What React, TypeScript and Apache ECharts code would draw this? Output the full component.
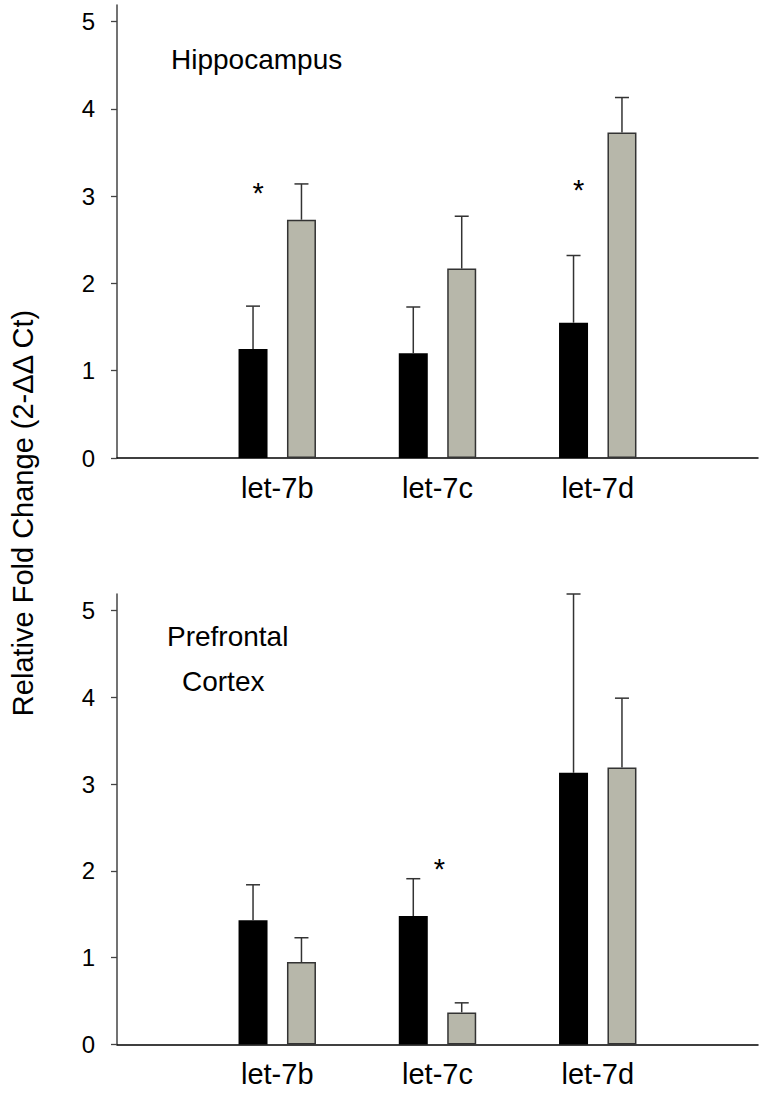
import React, { useEffect, useRef } from "react";
import * as echarts from "echarts";

// ---------- data ----------
const categories = ["let-7b", "let-7c", "let-7d"];
const yTicks = [0, 1, 2, 3, 4, 5];

const hippoControl = [1.25, 1.2, 1.55];
const hippoControlErr = [0.49, 0.53, 0.77];
const hippoTreated = [2.73, 2.17, 3.73];
const hippoTreatedErr = [0.41, 0.6, 0.4];
const hippoStarCats = ["let-7b", "let-7d"];
const hippoStarY = [3.11, 3.14];

const pfcControl = [1.43, 1.48, 3.13];
const pfcControlErr = [0.41, 0.43, 2.06];
const pfcTreated = [0.95, 0.37, 3.19];
const pfcTreatedErr = [0.28, 0.11, 0.8];
const pfcStarCats = ["let-7c"];
const pfcStarY = [2.09];

const yTitle = "Relative Fold Change (2-ΔΔ Ct)";
const panelTitles = ["Hippocampus", "Prefrontal", "Cortex"];

// ---------- style ----------
const FONT = 'Arial, "Liberation Sans", Helvetica, sans-serif';
const BAR_W = 29;
const BAR_GAP = 0.67;
const OFF = (BAR_W + BAR_W * BAR_GAP) / 2;
const GRAY = "#b7b7aa";
const EDGE = "#333333";
const Y_MAX = 5.19;

const axisCats = ["", ...categories, ""];
const catIdx = (c: string) => axisCats.indexOf(c);

function errSeries(gridIdx: number, vals: number[], errs: number[], off: number) {
  return {
    type: "custom",
    xAxisIndex: gridIdx,
    yAxisIndex: gridIdx,
    clip: false,
    z: 5,
    data: vals.map((v, i) => [i + 1, v, errs[i]]),
    renderItem: (_p: any, api: any) => {
      const c = api.value(0);
      const v = api.value(1);
      const e = api.value(2);
      const p0 = api.coord([c, v]);
      const p1 = api.coord([c, v + e]);
      const x = p0[0] + off;
      return {
        type: "group",
        children: [
          { type: "line", shape: { x1: x, y1: p0[1], x2: x, y2: p1[1] }, style: { stroke: EDGE, lineWidth: 1.5 } },
          { type: "line", shape: { x1: x - 7, y1: p1[1], x2: x + 7, y2: p1[1] }, style: { stroke: EDGE, lineWidth: 1.5 } },
        ],
      };
    },
  };
}

function starSeries(gridIdx: number, cats: string[], ys: number[], dx: number) {
  return {
    type: "custom",
    xAxisIndex: gridIdx,
    yAxisIndex: gridIdx,
    clip: false,
    z: 6,
    data: cats.map((c, i) => [catIdx(c), ys[i]]),
    renderItem: (_p: any, api: any) => {
      const p = api.coord([api.value(0), api.value(1)]);
      return {
        type: "text",
        x: p[0] + dx,
        y: p[1] + 6,
        style: {
          text: "*",
          fontSize: 29,
          fontFamily: FONT,
          fill: "#000",
          align: "center",
          verticalAlign: "middle",
        },
      };
    },
  };
}

function barSeries(gridIdx: number, vals: number[], color: string, border: string, bw: number) {
  return {
    type: "bar",
    xAxisIndex: gridIdx,
    yAxisIndex: gridIdx,
    barWidth: BAR_W,
    barGap: `${BAR_GAP * 100}%`,
    data: vals.map((v, i) => [i + 1, v]),
    itemStyle: { color, borderColor: border, borderWidth: bw },
    z: 3,
  };
}

function xAxis(gridIdx: number) {
  return {
    type: "category",
    gridIndex: gridIdx,
    data: axisCats,
    boundaryGap: false,
    axisLine: { lineStyle: { color: "#000", width: 1.5 } },
    axisTick: { show: false },
    axisLabel: { color: "#000", fontSize: 29, fontFamily: FONT, margin: 15, interval: 0 },
    splitLine: { show: false },
  };
}

function yAxis(gridIdx: number) {
  return {
    type: "value",
    gridIndex: gridIdx,
    min: 0,
    max: Y_MAX,
    axisLine: { show: true, lineStyle: { color: "#444", width: 1.5 } },
    axisTick: { show: true, length: 6, lineStyle: { color: "#444", width: 1.3 }, customValues: yTicks },
    axisLabel: { color: "#000", fontSize: 24, fontFamily: FONT, margin: 22, customValues: yTicks },
    splitLine: { show: false },
  };
}

export default function App() {
  const ref = useRef<HTMLDivElement>(null);
  useEffect(() => {
    if (!ref.current) return;
    const chart = echarts.init(ref.current, undefined, { renderer: "svg" });
    chart.setOption({
      animation: false,
      backgroundColor: "#fff",
      grid: [
        { left: 117, right: 10, top: 5, height: 453 },
        { left: 117, right: 10, top: 594, height: 450.5 },
      ],
      xAxis: [xAxis(0), xAxis(1)],
      yAxis: [yAxis(0), yAxis(1)],
      series: [
        barSeries(0, hippoControl, "#000", "#000", 0),
        barSeries(0, hippoTreated, GRAY, EDGE, 1.5),
        errSeries(0, hippoControl, hippoControlErr, -OFF),
        errSeries(0, hippoTreated, hippoTreatedErr, OFF),
        starSeries(0, hippoStarCats, hippoStarY, -19),
        barSeries(1, pfcControl, "#000", "#000", 0),
        barSeries(1, pfcTreated, GRAY, EDGE, 1.5),
        errSeries(1, pfcControl, pfcControlErr, -OFF),
        errSeries(1, pfcTreated, pfcTreatedErr, OFF),
        starSeries(1, pfcStarCats, pfcStarY, 2),
      ],
      graphic: [
        {
          type: "text",
          x: 22.5,
          y: 513,
          rotation: Math.PI / 2,
          style: { text: yTitle, fontSize: 29, fontFamily: FONT, fill: "#000", align: "center", verticalAlign: "middle" },
        },
        {
          type: "text",
          x: 171,
          y: 59,
          style: { text: panelTitles[0], fontSize: 28, fontFamily: FONT, fill: "#000", align: "left", verticalAlign: "middle" },
        },
        {
          type: "text",
          x: 167,
          y: 636,
          style: { text: panelTitles[1], fontSize: 28, fontFamily: FONT, fill: "#000", align: "left", verticalAlign: "middle" },
        },
        {
          type: "text",
          x: 182,
          y: 681,
          style: { text: panelTitles[2], fontSize: 28, fontFamily: FONT, fill: "#000", align: "left", verticalAlign: "middle" },
        },
      ],
    });
    return () => chart.dispose();
  }, []);
  return (
    <div
      ref={ref}
      style={{ position: "absolute", left: 0, top: 0, width: 768, height: 1096, background: "#fff" }}
    />
  );
}
